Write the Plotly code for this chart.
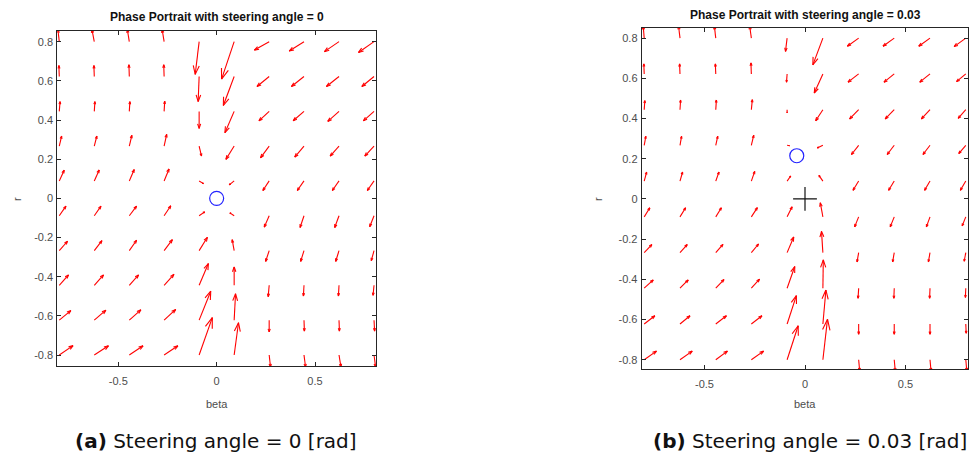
import plotly.graph_objects as go
import math

# Grid of (beta, r) sample points, rows listed from r = 0.8 down to r = -0.8
beta_grid = [-0.8, -0.622, -0.444, -0.267, -0.089, 0.089, 0.267, 0.444, 0.622, 0.8]
r_grid = [0.8, 0.622, 0.444, 0.267, 0.089, -0.089, -0.267, -0.444, -0.622, -0.8]

# Drawn arrow components (d beta, d r) for steering angle = 0
dbeta_0 = [
    [-0.007, -0.012, -0.010, -0.010, -0.020, -0.064, -0.075, -0.075, -0.074, -0.079],
    [-0.002, -0.002, -0.002, -0.002, -0.005, -0.055, -0.062, -0.064, -0.064, -0.062],
    [0.004, 0.003, 0.003, 0.003, 0.000, -0.047, -0.052, -0.055, -0.057, -0.054],
    [0.012, 0.013, 0.013, 0.013, 0.012, -0.042, -0.044, -0.047, -0.045, -0.047],
    [0.025, 0.025, 0.025, 0.025, 0.022, -0.025, -0.032, -0.034, -0.034, -0.034],
    [0.034, 0.034, 0.037, 0.034, 0.028, -0.022, -0.025, -0.020, -0.022, -0.022],
    [0.042, 0.039, 0.037, 0.042, 0.042, -0.010, -0.018, -0.017, -0.017, -0.014],
    [0.047, 0.047, 0.047, 0.050, 0.047, 0.000, -0.005, -0.003, -0.003, -0.005],
    [0.059, 0.059, 0.059, 0.059, 0.059, 0.007, 0.000, 0.002, 0.002, 0.003],
    [0.070, 0.072, 0.070, 0.070, 0.067, 0.022, 0.007, 0.008, 0.010, 0.008],
]
dr_0 = [
    [0.062, 0.062, 0.062, 0.062, -0.167, -0.191, -0.043, -0.048, -0.051, -0.055],
    [0.056, 0.056, 0.060, 0.060, -0.128, -0.148, -0.051, -0.051, -0.051, -0.051],
    [0.050, 0.050, 0.050, 0.052, -0.087, -0.109, -0.048, -0.048, -0.051, -0.048],
    [0.051, 0.051, 0.055, 0.060, -0.051, -0.068, -0.060, -0.056, -0.051, -0.051],
    [0.055, 0.056, 0.058, 0.061, -0.014, -0.020, -0.049, -0.049, -0.049, -0.049],
    [0.049, 0.049, 0.049, 0.051, 0.020, 0.015, -0.058, -0.060, -0.060, -0.056],
    [0.048, 0.051, 0.053, 0.056, 0.068, 0.056, -0.055, -0.055, -0.055, -0.051],
    [0.053, 0.053, 0.053, 0.056, 0.111, 0.094, -0.058, -0.055, -0.055, -0.051],
    [0.049, 0.051, 0.053, 0.055, 0.148, 0.135, -0.060, -0.056, -0.056, -0.056],
    [0.048, 0.047, 0.047, 0.047, 0.191, 0.165, -0.062, -0.062, -0.062, -0.062],
]

# Drawn arrow components (d beta, d r) for steering angle = 0.03
dbeta_003 = [
    [-0.005, -0.007, -0.007, -0.008, -0.008, -0.050, -0.056, -0.056, -0.056, -0.058],
    [-0.002, -0.002, -0.002, -0.002, -0.003, -0.043, -0.053, -0.051, -0.051, -0.046],
    [0.003, 0.003, 0.003, 0.005, 0.000, -0.036, -0.045, -0.045, -0.043, -0.038],
    [0.008, 0.008, 0.010, 0.012, 0.012, -0.028, -0.036, -0.035, -0.035, -0.035],
    [0.012, 0.013, 0.016, 0.017, 0.018, -0.020, -0.028, -0.028, -0.027, -0.027],
    [0.028, 0.028, 0.028, 0.030, 0.025, -0.013, -0.020, -0.020, -0.018, -0.018],
    [0.038, 0.036, 0.036, 0.036, 0.033, -0.007, -0.008, -0.008, -0.008, -0.008],
    [0.045, 0.041, 0.041, 0.041, 0.038, 0.002, -0.003, -0.002, -0.002, -0.002],
    [0.053, 0.050, 0.053, 0.053, 0.046, 0.015, 0.000, 0.000, 0.000, 0.002],
    [0.061, 0.061, 0.058, 0.061, 0.055, 0.023, 0.005, 0.005, 0.005, 0.005],
]
dr_003 = [
    [0.060, 0.060, 0.060, 0.060, -0.066, -0.133, -0.040, -0.040, -0.040, -0.042],
    [0.050, 0.050, 0.050, 0.055, -0.041, -0.095, -0.041, -0.041, -0.041, -0.038],
    [0.045, 0.048, 0.048, 0.050, -0.015, -0.055, -0.046, -0.046, -0.046, -0.043],
    [0.045, 0.045, 0.045, 0.050, -0.002, -0.013, -0.046, -0.046, -0.046, -0.041],
    [0.045, 0.045, 0.045, 0.048, 0.025, 0.028, -0.046, -0.046, -0.046, -0.046],
    [0.045, 0.045, 0.045, 0.046, 0.050, 0.070, -0.050, -0.050, -0.050, -0.045],
    [0.040, 0.040, 0.041, 0.043, 0.078, 0.106, -0.046, -0.046, -0.046, -0.043],
    [0.041, 0.041, 0.043, 0.045, 0.108, 0.141, -0.050, -0.050, -0.050, -0.046],
    [0.041, 0.041, 0.041, 0.041, 0.141, 0.169, -0.051, -0.051, -0.051, -0.046],
    [0.043, 0.043, 0.043, 0.043, 0.169, 0.202, -0.055, -0.055, -0.055, -0.055],
]

# Equilibrium markers
eq_0 = ([0.0], [0.0])
eq_003 = ([-0.041], [0.215])
origin_003 = ([0.0], [0.0])

# Axis ticks
x_ticks = [-0.5, 0, 0.5]
x_tick_text = ["-0.5", "0", "0.5"]
y_ticks = [-0.8, -0.6, -0.4, -0.2, 0, 0.2, 0.4, 0.6, 0.8]
y_tick_text = ["-0.8", "-0.6", "-0.4", "-0.2", "0", "0.2", "0.4", "0.6", "0.8"]

titles = ["Phase Portrait with steering angle = 0",
          "Phase Portrait with steering angle = 0.03"]
captions = ["<b>(a)</b> Steering angle = 0 [rad]",
            "<b>(b)</b> Steering angle = 0.03 [rad]"]

W, H = 969, 465
RED = "#ff0000"
AXC = "#262626"
TXT = "#4d4d4d"
BLUE = "#2424ff"


def quiver_path(xs, ys, U, V, head=0.28, ang=0.33):
    """Shafts plus open two-line arrowheads, joined with None breaks."""
    px, py = [], []
    ca, sa = math.cos(ang), math.sin(ang)
    for i, yv in enumerate(ys):
        for j, xv in enumerate(xs):
            u, v = U[i][j], V[i][j]
            tx, ty = xv + u, yv + v
            px += [xv, tx, None]
            py += [yv, ty, None]
            bx, by = -head * u, -head * v
            for s in (1, -1):
                rx = bx * ca - s * by * sa
                ry = s * bx * sa + by * ca
                px += [tx + rx, tx, None]
                py += [ty + ry, ty, None]
    return px, py


fig = go.Figure()

panels = [
    dict(U=dbeta_0, V=dr_0, xa="x", ya="y",
         xdom=[57.3 / W, 376.0 / W], ydom=[1 - 366.0 / H, 1 - 30.7 / H],
         xr=[-0.81, 0.81], yr=[-0.856, 0.856]),
    dict(U=dbeta_003, V=dr_003, xa="x2", ya="y2",
         xdom=[641.7 / W, 968.3 / W], ydom=[1 - 369.0 / H, 1 - 27.7 / H],
         xr=[-0.8125, 0.8125], yr=[-0.846, 0.852]),
]

for p in panels:
    qx, qy = quiver_path(beta_grid, r_grid, p["U"], p["V"])
    fig.add_trace(go.Scatter(x=qx, y=qy, mode="lines", xaxis=p["xa"], yaxis=p["ya"],
                             line=dict(color=RED, width=1.1), hoverinfo="skip",
                             showlegend=False))

fig.add_trace(go.Scatter(x=eq_0[0], y=eq_0[1], mode="markers", xaxis="x", yaxis="y",
                         marker=dict(symbol="circle-open", size=14, color=BLUE,
                                     line=dict(color=BLUE, width=1.2)),
                         showlegend=False))
fig.add_trace(go.Scatter(x=eq_003[0], y=eq_003[1], mode="markers", xaxis="x2", yaxis="y2",
                         marker=dict(symbol="circle-open", size=14, color=BLUE,
                                     line=dict(color=BLUE, width=1.2)),
                         showlegend=False))
fig.add_trace(go.Scatter(x=origin_003[0], y=origin_003[1], mode="markers",
                         xaxis="x2", yaxis="y2",
                         marker=dict(symbol="cross-thin-open", size=17, color="#111111",
                                     line=dict(color="#111111", width=1.2)),
                         showlegend=False))

tickfont = dict(family="Liberation Sans, Arial, sans-serif", size=11, color=TXT)
for k, p in enumerate(panels):
    sfx = "" if k == 0 else "2"
    common = dict(showline=True, mirror="ticks", linecolor=AXC, linewidth=1,
                  ticks="inside", ticklen=4, tickcolor=AXC, tickwidth=1,
                  showgrid=False, zeroline=False, tickfont=tickfont, fixedrange=True)
    fig.update_layout(**{
        "xaxis" + sfx: dict(domain=p["xdom"], range=p["xr"], tickvals=x_ticks,
                            ticktext=x_tick_text, anchor="y" + sfx,
                            ticklabelstandoff=5, **common),
        "yaxis" + sfx: dict(domain=p["ydom"], range=p["yr"], tickvals=y_ticks,
                            ticktext=y_tick_text, anchor="x" + sfx,
                            ticklabelstandoff=1, **common),
    })

annotations = []
centers = [216.7, 805.0]
caption_x = [216.0, 810.0]
ylabel_x = [17.0, 598.0]
title_y = [17.5, 15.5]
for k in range(2):
    annotations.append(dict(x=centers[k] / W, y=1 - title_y[k] / H, xref="paper", yref="paper",
                            text="<b>" + titles[k] + "</b>", showarrow=False,
                            xanchor="center", yanchor="middle",
                            font=dict(family="Liberation Sans, Arial, sans-serif",
                                      size=12, color="#111111")))
    annotations.append(dict(x=centers[k] / W, y=1 - 404.0 / H, xref="paper", yref="paper",
                            text="beta", showarrow=False, xanchor="center", yanchor="middle",
                            font=tickfont))
    annotations.append(dict(x=ylabel_x[k] / W, y=1 - 199.0 / H, xref="paper", yref="paper",
                            text="r", showarrow=False, xanchor="center", yanchor="middle",
                            textangle=-90, font=tickfont))
    annotations.append(dict(x=caption_x[k] / W, y=1 - 441.0 / H, xref="paper", yref="paper",
                            text=captions[k], showarrow=False, xanchor="center",
                            yanchor="middle",
                            font=dict(family="DejaVu Sans, sans-serif",
                                      size=20, color="#111111")))

fig.update_layout(width=W, height=H, margin=dict(l=0, r=0, t=0, b=0),
                  paper_bgcolor="white", plot_bgcolor="white",
                  annotations=annotations, showlegend=False)

fig.write_html("out.html", config={"displayModeBar": False})
